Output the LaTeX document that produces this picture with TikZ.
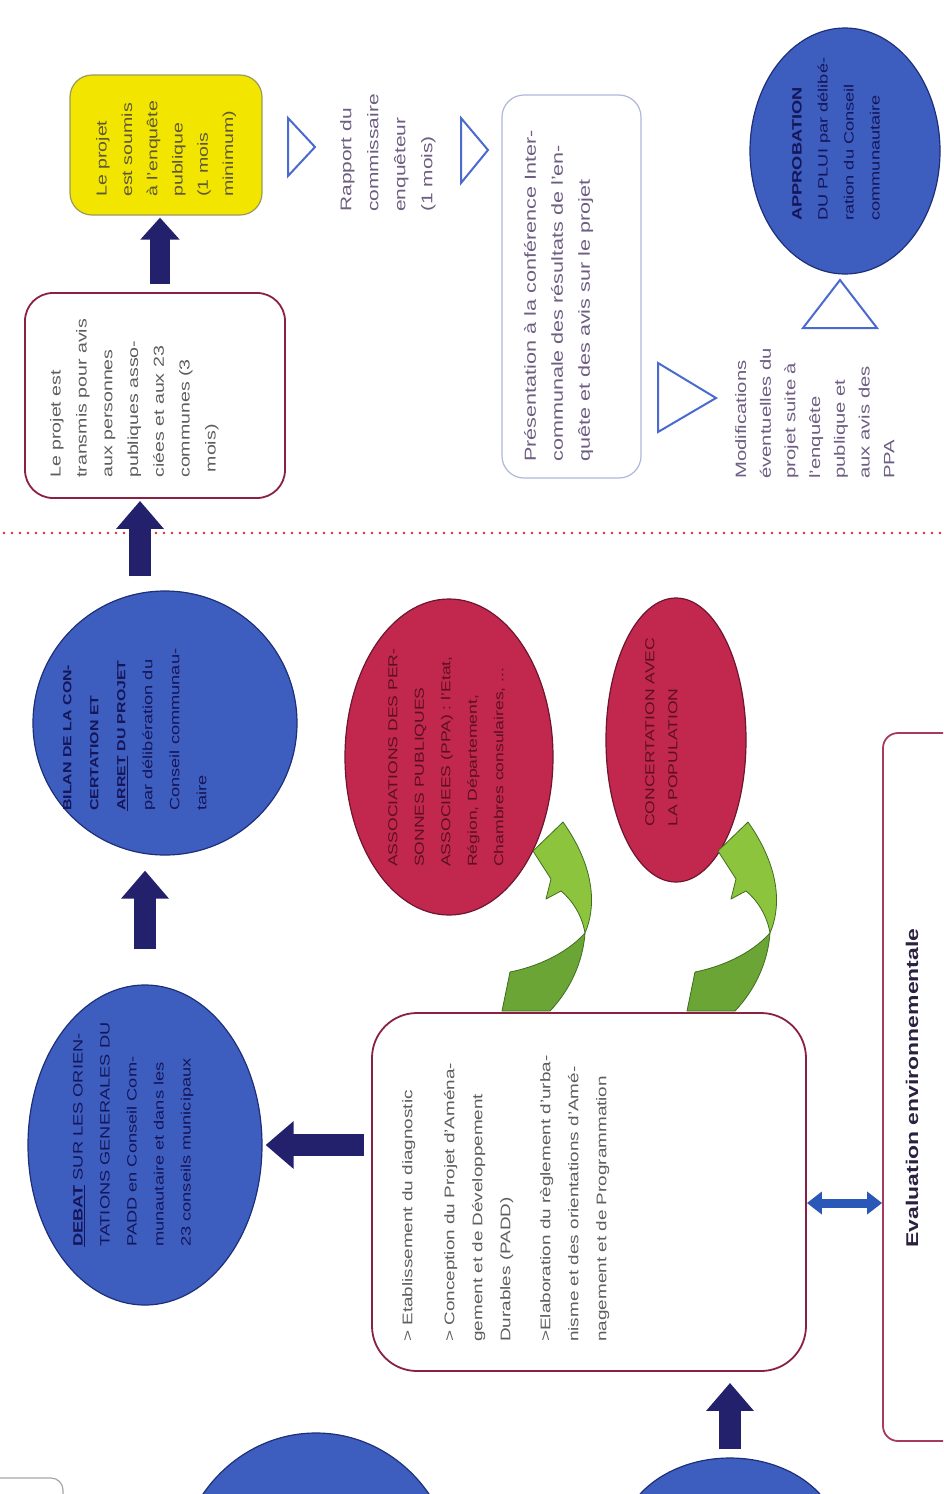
\documentclass[tikz,border=0pt]{standalone}
\usepackage{fontspec}
\setmainfont{Liberation Sans}
\usetikzlibrary{arrows.meta,shapes.geometric,calc}
\definecolor{bluefill}{HTML}{3D5EBE}
\definecolor{blueline}{HTML}{1E2F7A}
\definecolor{navy}{HTML}{23206C}
\definecolor{redfill}{HTML}{C2284E}
\definecolor{redline}{HTML}{6E1530}
\definecolor{boxred}{HTML}{8B2142}
\definecolor{evalred}{HTML}{A83A5C}
\definecolor{yellowfill}{HTML}{F2E600}
\definecolor{yellowline}{HTML}{9C9A58}
\definecolor{tri}{HTML}{4A6AD0}
\definecolor{dotred}{HTML}{C8323C}
\definecolor{txtnavy}{HTML}{15155A}
\definecolor{txtred}{HTML}{5C0F22}
\definecolor{txtgrey}{HTML}{5E5E5E}
\definecolor{txtpurple}{HTML}{6E5E82}
\definecolor{txtyellow}{HTML}{5E5838}
\definecolor{presline}{HTML}{AEB8D8}
\definecolor{glight}{HTML}{8CC43E}
\definecolor{gdark}{HTML}{6AA535}
\definecolor{gline}{HTML}{3F6E1E}
\definecolor{dblblue}{HTML}{2A58B8}
\definecolor{evaltxt}{HTML}{2A2040}
\begin{document}
\begin{tikzpicture}[x=1pt,y=-1pt,
  blueell/.style={ellipse, draw=blueline, line width=1.2pt, fill=bluefill, inner sep=0pt},
  redell/.style={ellipse, draw=redline, line width=1.2pt, fill=redfill, inner sep=0pt},
  txt/.style={rotate=90, xscale=1.35, anchor=north west, inner sep=0pt, align=left},
  navyarr/.style={draw=navy, line width=22pt, -{Triangle[length=28pt,width=46pt]}},
  smallarr/.style={draw=navy, line width=20pt, -{Triangle[length=22pt,width=38pt]}},
  dblarr/.style={draw=dblblue, line width=9pt, {Triangle[length=15pt,width=22pt]}-{Triangle[length=15pt,width=22pt]}},
  tribox/.style={draw=tri, line width=2pt, line join=miter},
  greenpart/.style={draw=gline, line width=0.8pt, line join=round}
]
\useasboundingbox (0,0) rectangle (943,1494);
\clip (0,0) rectangle (943,1494);
\fill[white] (0,0) rectangle (943,1494);

% dotted separator
\draw[dotred, line width=2.6pt, dash pattern=on 0pt off 8pt, line cap=round] (4,533) -- (943,533);

% shapes
\node[blueell, minimum width=234pt, minimum height=320pt] (debat) at (145,1145) {};
\node[blueell, circle, minimum size=264pt] (bilan) at (165,723) {};
\node[redell, minimum width=208pt, minimum height=316pt] (assoc) at (449,757) {};
\node[redell, minimum width=140pt, minimum height=284pt] (concert) at (676,740) {};
\node[blueell, minimum width=190pt, minimum height=246pt] (approb) at (845,151) {};
\node[blueell, minimum width=280pt, minimum height=298pt] (botA) at (316,1582) {};
\node[blueell, minimum width=220pt, minimum height=170pt] (botB) at (730,1543) {};

\node[draw=boxred, line width=1.8pt, rounded corners=45pt, fill=white, minimum width=434pt, minimum height=358pt, inner sep=0pt] (etab) at (589,1192) {};
\node[draw=boxred, line width=1.8pt, rounded corners=28pt, fill=white, minimum width=260pt, minimum height=205pt, inner sep=0pt] (trans) at (155,395.5) {};
\node[draw=yellowline, line width=1.2pt, rounded corners=22pt, fill=yellowfill, minimum width=192pt, minimum height=140pt, inner sep=0pt] (yellow) at (166,145) {};
\node[draw=presline, line width=1.2pt, rounded corners=22pt, fill=white, minimum width=139pt, minimum height=383pt, inner sep=0pt] (pres) at (571.5,286.5) {};
\node[draw=evalred, line width=1.8pt, rounded corners=15pt, fill=white, minimum width=117pt, minimum height=708pt, inner sep=0pt] (eval) at (941.5,1087) {};
\node[draw=gray!70, line width=1.2pt, rounded corners=12pt, minimum width=123pt, minimum height=122pt, inner sep=0pt] (corner) at (1.5,1539) {};

% triangles
\draw[tribox] (288,118) -- (315,147) -- (288,176) -- cycle;
\draw[tribox] (461,118) -- (488,150) -- (461,183) -- cycle;
\draw[tribox] (658,363) -- (716,398) -- (658,432) -- cycle;
\draw[tribox] (803,328) -- (840,280) -- (877,328) -- cycle;

% texts
\node[txt, font=\fontsize{13.5}{27}\selectfont, text=txtnavy] (debatT) at (73,1247)
  {\textbf{\underline{DEBAT}} SUR LES ORIEN-\\TATIONS GENERALES DU\\PADD en Conseil Com-\\munautaire et dans les\\23 conseils municipaux};
\node[txt, font=\fontsize{13.5}{27}\selectfont, text=txtnavy] (bilanT) at (63,811)
  {{\bfseries\fontsize{11.8}{27}\selectfont BILAN DE LA CON-}\\{\bfseries\fontsize{11.8}{27}\selectfont CERTATION ET}\\{\bfseries\fontsize{11.8}{27}\selectfont \underline{ARRET} DU PROJET}\\par délibération du\\Conseil communau-\\taire};
\node[txt, font=\fontsize{13}{26.5}\selectfont, text=txtred] (assocT) at (388,867)
  {ASSOCIATIONS DES PER-\\SONNES PUBLIQUES\\ASSOCIEES (PPA) : l'Etat,\\Région, Département,\\Chambres consulaires, ...};
\node[txt, font=\fontsize{13}{23}\selectfont, text=txtred] (concertT) at (645,827)
  {CONCERTATION AVEC\\LA POPULATION};
\node[txt, font=\fontsize{13.5}{26}\selectfont, text=txtnavy] (approbT) at (792,221)
  {\textbf{APPROBATION}\\DU PLUI par délibé-\\ration du Conseil\\communautaire};
\node[txt, font=\fontsize{14.5}{25.8}\selectfont, text=txtgrey] (transT) at (50,478)
  {Le projet est\\transmis pour avis\\aux personnes\\publiques asso-\\ciées et aux 23\\communes (3\\\ mois)};
\node[txt, font=\fontsize{14.5}{25.3}\selectfont, text=txtyellow] (yellowT) at (96,197)
  {Le projet\\est soumis\\à l'enquête\\publique\\(1 mois\\minimum)};
\node[txt, font=\fontsize{15.5}{27}\selectfont, text=txtpurple] (rapportT) at (340,212)
  {Rapport du\\commissaire\\enquêteur\\(1 mois)};
\node[txt, font=\fontsize{16}{27}\selectfont, text=txtpurple] (presT) at (524,462)
  {Présentation à la conférence Inter-\\communale des résultats de l'en-\\quête et des avis sur le projet};
\node[txt, font=\fontsize{15}{24.7}\selectfont, text=txtpurple] (modifT) at (735,479)
  {Modifications\\éventuelles du\\projet suite à\\l'enquête\\publique et\\aux avis des\\PPA};
\node[txt, font=\fontsize{14}{28}\selectfont, text=txtgrey] (etabT) at (402,1342)
  {> Etablissement du diagnostic\\[14pt]> Conception du Projet d'Aména-\\gement et de Développement\\Durables (PADD)\\[12pt]>Elaboration du règlement d'urba-\\nisme et des orientations d'Amé-\\nagement et de Programmation};
\node[rotate=90, xscale=1.35, inner sep=0pt, font=\bfseries\fontsize{17}{20}\selectfont, text=evaltxt] (evalT) at (912,1088)
  {Evaluation environnementale};

% navy arrows
\draw[navyarr, shorten <=7pt, shorten >=3pt] (etab.west |- debat.center) -- (debat);
\draw[navyarr, shorten <=35pt, shorten >=15pt] (debat.north) -- (debat.north |- bilan.south);
\coordinate (c1) at ($(bilan.north)+(-25,0)$);
\draw[navyarr, shorten <=14pt, shorten >=2pt] (c1) -- (c1 |- trans.south);
\coordinate (c2) at ($(trans.north)+(5,0)$);
\draw[smallarr, shorten <=8pt, shorten >=2pt] (c2) -- (c2 |- yellow.south);
\draw[navyarr, shorten <=8pt, shorten >=11pt] (botB.north) -- (botB.north |- etab.south);

% double arrow
\coordinate (c3) at ($(etab.east)+(0,11)$);
\draw[dblarr] (c3) -- (c3 -| eval.west);

% green curved arrows
\foreach \dx in {0,185}{
\begin{scope}[xshift=\dx pt]
\filldraw[greenpart, fill=gdark] (502,1011) -- (510,972) .. controls (535,967) and (565,955) .. (585,933)
   .. controls (583,962) and (570,990) .. (550,1011) -- cycle;
\filldraw[greenpart, fill=glight] (585,933) .. controls (597,905) and (594,866) .. (563,822)
   -- (533,851) -- (551,879) -- (546,899) -- (561,891)
   .. controls (572,900) and (582,915) .. (585,933) -- cycle;
\end{scope}}
\end{tikzpicture}
\end{document}
